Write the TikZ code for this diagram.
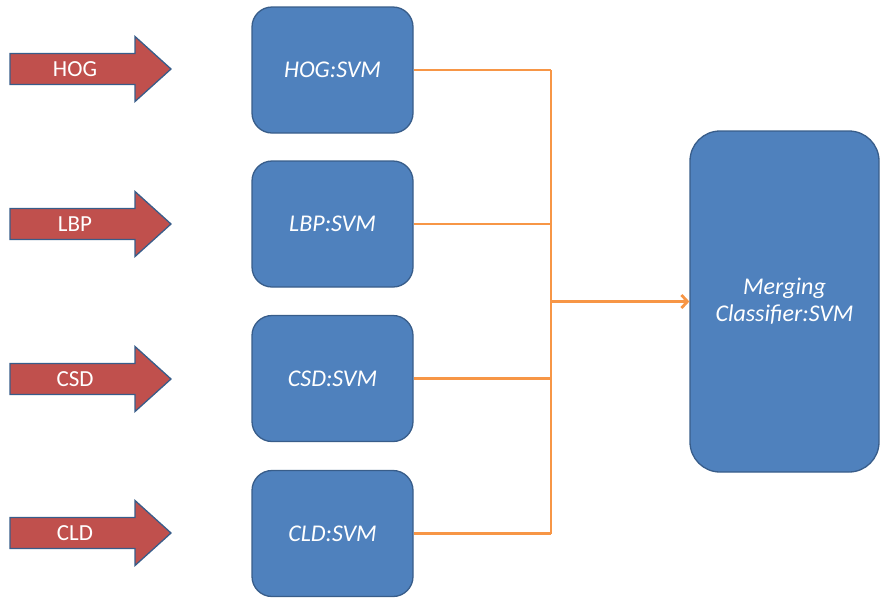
\documentclass[tikz,border=0pt]{standalone}
\usepackage{fontspec}
\setmainfont{Carlito}
\usetikzlibrary{arrows.meta}
\definecolor{boxblue}{HTML}{4F81BD}
\definecolor{boxedge}{HTML}{385D8A}
\definecolor{arrred}{HTML}{C0504D}
\definecolor{lineorange}{HTML}{F79646}
\tikzset{
  svmbox/.style={draw=boxedge, line width=1.3pt, fill=boxblue, rounded corners=20pt,
    minimum width=161pt, minimum height=126pt, inner sep=0pt,
    text=white, font=\fontsize{24}{27}\selectfont\itshape, align=center},
  inarrow/.style={draw=boxedge, line width=1.3pt, fill=arrred, line join=miter},
  inlabel/.style={text=white, font=\fontsize{23}{27}\selectfont, inner sep=0pt},
  conn/.style={draw=lineorange, line width=2.8pt},
}
\newcommand{\bigarrow}[1]{%
  \draw[inarrow] (10,#1-15.5) -- (135,#1-15.5) -- (135,#1-32.5) -- (171,#1)
    -- (135,#1+32.5) -- (135,#1+15.5) -- (10,#1+15.5) -- cycle;}
\begin{document}
\begin{tikzpicture}[x=1pt,y=-1pt]
\useasboundingbox (0,0) rectangle (880,598);
% input arrows
\bigarrow{69}
\bigarrow{224}
\bigarrow{379}
\bigarrow{533}
\node[inlabel] (lHOG) at (75,69) {HOG};
\node[inlabel] (lLBP) at (75,224) {LBP};
\node[inlabel] (lCSD) at (75,379) {CSD};
\node[inlabel] (lCLD) at (75,533) {CLD};
% classifier boxes
\node[svmbox] (bHOG) at (332.5,70) {HOG:SVM};
\node[svmbox] (bLBP) at (332.5,224) {LBP:SVM};
\node[svmbox] (bCSD) at (332.5,378.5) {CSD:SVM};
\node[svmbox] (bCLD) at (332.5,533.5) {CLD:SVM};
% merging box
\node[svmbox, minimum width=189pt, minimum height=341pt, rounded corners=30pt] (merge) at (784.5,301.5) {Merging\\Classifier:SVM};
% connectors
\coordinate (jTop) at (551,70);
\coordinate (jBot) at (551,533.5);
\coordinate (jMid) at (551,301.5);
\draw[conn] (bHOG.east) -- (jTop);
\draw[conn] (bLBP.east) -- (bLBP.east -| jTop);
\draw[conn] (bCSD.east) -- (bCSD.east -| jTop);
\draw[conn] (bCLD.east) -- (jBot);
\draw[conn] (jTop) -- (jBot);
\draw[conn, -{Straight Barb[length=6pt,width=13pt,line width=2.8pt]}] (jMid) -- (merge.west);
\end{tikzpicture}
\end{document}
